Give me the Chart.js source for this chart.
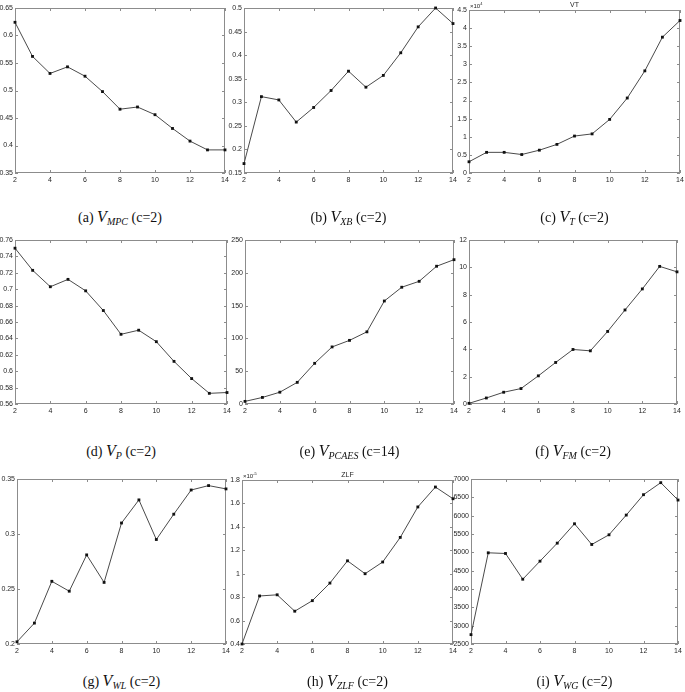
<!DOCTYPE html>
<html lang="en">
<head>
<meta charset="UTF-8">
<title>Validity indices vs number of clusters</title>
<script src="https://cdn.jsdelivr.net/npm/chart.js"></script>
<style>
    body {
        margin: 0;
        background: #ffffff;
        width: 685px;
        height: 692px;
        position: relative;
        overflow: hidden;
    }
    canvas {
        position: absolute;
    }
    .caption {
        position: absolute;
        font-family: 'Liberation Serif', 'Times New Roman', serif;
        font-size: 14px;
        line-height: 16px;
        color: #111;
        white-space: nowrap;
        transform: translateX(-50%);
    }
    .caption i {
        font-size: 16px;
    }
    .caption sub {
        font-size: 10px;
        font-style: italic;
        vertical-align: -3px;
    }
</style>
</head>
<body>
<script>
    // number of clusters on every x axis
    const clusters = [2, 3, 4, 5, 6, 7, 8, 9, 10, 11, 12, 13, 14];
    const xTicks = [2, 4, 6, 8, 10, 12, 14];

    const mpcVals = [0.624, 0.562, 0.531, 0.543, 0.526, 0.498, 0.466, 0.470, 0.456, 0.431, 0.408, 0.392, 0.392];
    const xbVals = [0.170, 0.312, 0.305, 0.258, 0.289, 0.325, 0.366, 0.332, 0.357, 0.405, 0.460, 0.500, 0.467];
    const tVals = [0.31, 0.57, 0.57, 0.51, 0.63, 0.79, 1.02, 1.08, 1.48, 2.07, 2.82, 3.75, 4.21]; // x10^4
    const pVals = [0.750, 0.723, 0.703, 0.712, 0.698, 0.674, 0.645, 0.650, 0.636, 0.612, 0.591, 0.573, 0.574];
    const pcaesVals = [4, 10, 18, 33, 62, 87, 97, 110, 157, 178, 187, 210, 220];
    const fmVals = [0.05, 0.44, 0.86, 1.13, 2.06, 3.04, 3.99, 3.89, 5.31, 6.88, 8.42, 10.07, 9.67];
    const wlVals = [0.202, 0.219, 0.257, 0.248, 0.281, 0.256, 0.310, 0.331, 0.295, 0.318, 0.340, 0.344, 0.341];
    const zlfVals = [0.40, 0.81, 0.82, 0.68, 0.77, 0.92, 1.11, 1.00, 1.10, 1.31, 1.57, 1.74, 1.64]; // x10^-5
    const wgVals = [2755, 4987, 4969, 4267, 4759, 5251, 5779, 5214, 5478, 6016, 6572, 6900, 6426];

    // y axis ranges [min, max, step]
    const mpcRange = [0.35, 0.65, 0.05];
    const xbRange = [0.15, 0.5, 0.05];
    const tRange = [0, 4.5, 0.5];
    const pRange = [0.56, 0.76, 0.02];
    const pcaesRange = [0, 250, 50];
    const fmRange = [0, 12, 2];
    const wlRange = [0.2, 0.35, 0.05];
    const zlfRange = [0.4, 1.8, 0.2];
    const wgRange = [2500, 7000, 500];

    const panels = [
        { vals: mpcVals, range: mpcRange, box: [15, 8, 225, 173], capY: 209, label: '(a)', sub: 'MPC', c: 'c=2' },
        { vals: xbVals, range: xbRange, box: [244, 8, 453, 173], capY: 209, label: '(b)', sub: 'XB', c: 'c=2' },
        { vals: tVals, range: tRange, box: [469, 10, 680, 173], capY: 209, label: '(c)', sub: 'T', c: 'c=2', title: 'VT', exp: '4' },
        { vals: pVals, range: pRange, box: [15, 240, 227, 404], capY: 443, label: '(d)', sub: 'P', c: 'c=2' },
        { vals: pcaesVals, range: pcaesRange, box: [245, 240, 454, 404], capY: 443, label: '(e)', sub: 'PCAES', c: 'c=14' },
        { vals: fmVals, range: fmRange, box: [469, 240, 677, 404], capY: 443, label: '(f)', sub: 'FM', c: 'c=2' },
        { vals: wlVals, range: wlRange, box: [17, 479, 226, 644], capY: 673, label: '(g)', sub: 'WL', c: 'c=2' },
        { vals: zlfVals, range: zlfRange, box: [242, 480, 453, 644], capY: 673, label: '(h)', sub: 'ZLF', c: 'c=2', title: 'ZLF', exp: '-5' },
        { vals: wgVals, range: wgRange, box: [471, 479, 678, 644], capY: 673, label: '(i)', sub: 'WG', c: 'c=2' }
    ];

    const AXIS_W = 22;   // room for y tick labels
    const AXIS_H = 14;   // room for x tick labels
    const PAD_R = 8;

    // MATLAB-like box with inward ticks, plus title / exponent text
    const matlabAxes = {
        id: 'matlabAxes',
        beforeDatasetsDraw(chart, args, opts) {
            const { ctx, chartArea: a } = chart;
            const x = chart.scales.x, y = chart.scales.y;
            ctx.save();
            ctx.strokeStyle = '#8c8c8c';
            ctx.lineWidth = 1;
            ctx.strokeRect(Math.round(a.left) + 0.5, Math.round(a.top) + 0.5,
                Math.round(a.width) - 1, Math.round(a.height) - 1);
            ctx.beginPath();
            x.ticks.forEach(t => {
                const px = Math.round(x.getPixelForValue(t.value)) + 0.5;
                ctx.moveTo(px, a.bottom); ctx.lineTo(px, a.bottom - 3);
                ctx.moveTo(px, a.top); ctx.lineTo(px, a.top + 3);
            });
            y.ticks.forEach(t => {
                const py = Math.round(y.getPixelForValue(t.value)) + 0.5;
                ctx.moveTo(a.left, py); ctx.lineTo(a.left + 3, py);
                ctx.moveTo(a.right, py); ctx.lineTo(a.right - 3, py);
            });
            ctx.stroke();
            ctx.fillStyle = '#262626';
            if (opts.title) {
                ctx.font = '7px "Liberation Sans", Arial, sans-serif';
                ctx.textAlign = 'center';
                ctx.textBaseline = 'bottom';
                ctx.fillText(opts.title, (a.left + a.right) / 2, a.top - 1);
            }
            if (opts.exp) {
                ctx.textAlign = 'left';
                ctx.textBaseline = 'bottom';
                ctx.font = '6px "Liberation Sans", Arial, sans-serif';
                ctx.fillText('\u00d710', a.left + 1, a.top - 1);
                const w = ctx.measureText('\u00d710').width;
                ctx.font = '4px "Liberation Sans", Arial, sans-serif';
                ctx.fillText(opts.exp, a.left + 1 + w, a.top - 4);
            }
            ctx.restore();
        }
    };

    function fmt(v) {
        return String(+Number(v).toFixed(4));
    }

    panels.forEach(p => {
        const [x0, y0, x1, y1] = p.box;
        const padTop = p.title ? 10 : 6;
        const canvas = document.createElement('canvas');
        const w = (x1 - x0) + AXIS_W + PAD_R;
        const h = (y1 - y0) + padTop + AXIS_H;
        canvas.width = w;
        canvas.height = h;
        canvas.style.left = (x0 - AXIS_W) + 'px';
        canvas.style.top = (y0 - padTop) + 'px';
        document.body.appendChild(canvas);

        new Chart(canvas, {
            type: 'line',
            data: {
                datasets: [{
                    data: clusters.map((c, i) => ({ x: c, y: p.vals[i] })),
                    borderColor: '#4a4a4a',
                    borderWidth: 1,
                    pointStyle: 'rect',
                    pointRadius: 2,
                    pointBackgroundColor: '#111',
                    pointBorderColor: '#111',
                    pointBorderWidth: 0,
                    tension: 0,
                    clip: 5
                }]
            },
            options: {
                responsive: false,
                animation: false,
                events: [],
                layout: { padding: { left: 0, top: padTop, right: PAD_R, bottom: 0 } },
                plugins: {
                    legend: { display: false },
                    tooltip: { enabled: false },
                    matlabAxes: { title: p.title, exp: p.exp }
                },
                scales: {
                    x: {
                        type: 'linear',
                        min: 2,
                        max: 14,
                        afterBuildTicks: s => { s.ticks = xTicks.map(v => ({ value: v })); },
                        ticks: {
                            color: '#262626',
                            font: { size: 7, family: '"Liberation Sans", Arial, sans-serif' },
                            padding: 3,
                            maxRotation: 0,
                            callback: fmt
                        },
                        grid: { display: false, drawTicks: false },
                        border: { display: false },
                        afterFit: s => {
                            s.height = AXIS_H;
                            s.paddingLeft = 0; s.paddingRight = 0;
                            s.paddingTop = 0; s.paddingBottom = 0;
                        }
                    },
                    y: {
                        min: p.range[0],
                        max: p.range[1],
                        ticks: {
                            stepSize: p.range[2],
                            color: '#262626',
                            font: { size: 7, family: '"Liberation Sans", Arial, sans-serif' },
                            padding: 2,
                            callback: fmt
                        },
                        grid: { display: false, drawTicks: false },
                        border: { display: false },
                        afterFit: s => {
                            s.width = AXIS_W;
                            s.paddingLeft = 0; s.paddingRight = 0;
                            s.paddingTop = 0; s.paddingBottom = 0;
                        }
                    }
                }
            },
            plugins: [matlabAxes]
        });

        const cap = document.createElement('div');
        cap.className = 'caption';
        cap.style.left = ((x0 + x1) / 2) + 'px';
        cap.style.top = p.capY + 'px';
        cap.innerHTML = p.label + ' <i>V</i><sub>' + p.sub + '</sub> (' + p.c + ')';
        document.body.appendChild(cap);
    });
</script>
</body>
</html>
